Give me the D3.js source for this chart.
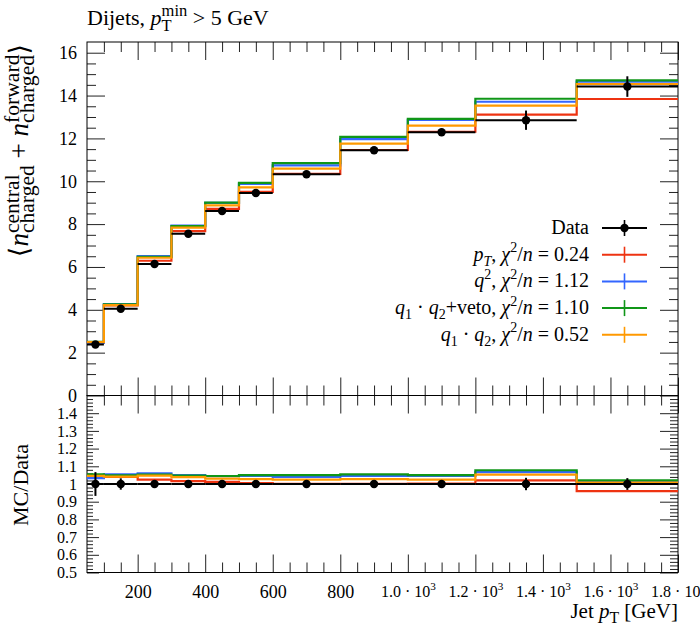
<!DOCTYPE html>
<html>
<head>
<meta charset="utf-8">
<script src="https://cdn.jsdelivr.net/npm/d3@7"></script>
<style>
  body { margin: 0; background: #fff; }
  svg { display: block; }
</style>
</head>
<body>
<script>
// bin edges in Jet pT [GeV]
const binEdges = [50, 100, 200, 300, 400, 500, 600, 800, 1000, 1200, 1500, 1800];
// measured <n_charged central + forward>
const dataVals = [2.38, 4.05, 6.14, 7.55, 8.61, 9.45, 10.33, 11.45, 12.29, 12.85, 14.42];
const dataErr  = [0.16, 0.13, 0.05, 0.05, 0.05, 0.05, 0.05, 0.06, 0.08, 0.45, 0.48];
// MC predictions
const mcPt    = [2.49, 4.21, 6.29, 7.67, 8.71, 9.50, 10.34, 11.46, 12.31, 13.11, 13.84];
const mcQ2    = [2.46, 4.27, 6.51, 7.93, 8.99, 9.88, 10.74, 11.97, 12.86, 13.71, 14.65];
const mcVeto  = [2.51, 4.25, 6.47, 7.91, 9.00, 9.92, 10.85, 12.07, 12.91, 13.85, 14.71];
const mcQ1Q2  = [2.49, 4.22, 6.43, 7.84, 8.87, 9.71, 10.59, 11.76, 12.60, 13.53, 14.54];
const chi2 = ["0.24", "1.12", "1.10", "0.52"];
const colors = ["#EE3311", "#3366FF", "#109618", "#FF9900"];

const xTicksMajor = [200, 400, 600, 800, 1000, 1200, 1400, 1600, 1800];
const yTicksMain = [0, 2, 4, 6, 8, 10, 12, 14, 16];
const yTicksRatio = [0.5, 0.6, 0.7, 0.8, 0.9, 1, 1.1, 1.2, 1.3, 1.4];

const series = [mcPt, mcQ2, mcVeto, mcQ1Q2];

const font = "'Liberation Serif', 'DejaVu Serif', serif";
const W = 700, H = 632;
const pLeft = 87, pRight = 678, pTop = 42, pMid = 395.5, pBottom = 572.5;

const svg = d3.select("body").append("svg")
  .attr("width", W).attr("height", H)
  .style("font-family", font);

var x = d3.scaleLinear().domain([50, 1800]).range([pLeft, pRight]);
var y = d3.scaleLinear().domain([0, 16.5]).range([pMid, pTop]);
var yr = d3.scaleLinear().domain([0.5, 1.5]).range([pBottom, pMid]);

function fs(txt) { return +txt.attr("font-size"); }

// small helper for text with italic, sub/superscripts and stacked scripts
function mathText(txt, tokens, opt) {
  opt = Object.assign({sc: 0.7, up: 0.42, down: 0.25}, opt || {});
  const f = fs(txt);
  let shift = 0;
  let extraDx = 0;
  tokens.forEach(tk => {
    if (tk.stack) {
      const sup = txt.append("tspan").text(tk.stack[0])
        .attr("font-size", opt.sc + "em").attr("dy", (-opt.up * f - shift));
      if (extraDx) sup.attr("dx", extraDx);
      extraDx = 0;
      const wSup = sup.node().getComputedTextLength();
      const sub = txt.append("tspan").text(tk.stack[1])
        .attr("font-size", opt.sc + "em").attr("dx", -wSup).attr("dy", (opt.up + opt.down) * f);
      const wSub = sub.node().getComputedTextLength();
      shift = opt.down * f;
      extraDx = Math.max(0, wSup - wSub);
      return;
    }
    let target = 0;
    if (tk.sub) target = opt.down * f;
    if (tk.sup) target = -opt.up * f;
    const t = txt.append("tspan").text(tk.t)
      .attr("dy", target - shift);
    if (extraDx) { t.attr("dx", extraDx); extraDx = 0; }
    if (tk.sub || tk.sup) t.attr("font-size", opt.sc + "em");
    if (tk.i) t.attr("font-style", "italic");
    shift = target;
  });
}

// title
var title = svg.append("text").attr("x", pLeft).attr("y", 25).attr("font-size", 22);
mathText(title, [{t: "Dijets, "}, {t: "p", i: true}, {stack: ["min", "T"]}, {t: " > 5 GeV"}], {sc: 0.75});

// y label main
var ylab = svg.append("text").attr("font-size", 27).attr("text-anchor", "end")
  .attr("transform", "translate(28," + (pTop + 2) + ") rotate(-90)");
mathText(ylab, [{t: "\u27e8"}, {t: "n", i: true}, {stack: ["central", "charged"]},
  {t: " + "}, {t: "n", i: true}, {stack: ["forward", "charged"]}, {t: "\u27e9"}],
  {sc: 0.8, up: 0.34, down: 0.22});

// ratio label
svg.append("text").attr("font-size", 22).attr("text-anchor", "middle")
  .attr("transform", "translate(28,485) rotate(-90)")
  .text("MC/Data");

// x label
var xlab = svg.append("text").attr("x", pRight).attr("y", 618)
  .attr("font-size", 21).attr("text-anchor", "end");
mathText(xlab, [{t: "Jet "}, {t: "p", i: true}, {t: "T", sub: true}, {t: " [GeV]"}], {sc: 0.75});

// ticks
const xMinor = d3.range(100, 1800, 50).filter(v => v % 200 !== 0);
const yMinor = d3.range(0.5, 16.5, 0.5).filter(v => v % 2 !== 0);
const rMinor = d3.range(26, 75).map(v => v / 50).filter(v => Math.abs(v * 10 - Math.round(v * 10)) > 1e-6);

function tickAxis(axisFn, scale, values, size, transform, fmt, pad) {
  const g = svg.append("g").attr("transform", transform)
    .call(axisFn(scale).tickValues(values).tickSize(-size)
      .tickPadding(pad || 3).tickFormat(fmt || (() => "")));
  g.select(".domain").remove();
  g.selectAll("line").attr("stroke", "#222");
  return g;
}

// main panel
tickAxis(d3.axisBottom, x, xTicksMajor, 18, `translate(0,${pMid})`);
tickAxis(d3.axisBottom, x, xMinor, 10, `translate(0,${pMid})`);
tickAxis(d3.axisTop, x, xTicksMajor, 18, `translate(0,${pTop})`);
tickAxis(d3.axisTop, x, xMinor, 10, `translate(0,${pTop})`);
var yAx = tickAxis(d3.axisLeft, y, yTicksMain, 18, `translate(${pLeft},0)`, d => d, 10);
tickAxis(d3.axisLeft, y, yMinor, 9, `translate(${pLeft},0)`);
tickAxis(d3.axisRight, y, yTicksMain, 18, `translate(${pRight},0)`);
tickAxis(d3.axisRight, y, yMinor, 9, `translate(${pRight},0)`);

// ratio panel
tickAxis(d3.axisTop, x, xTicksMajor, 18, `translate(0,${pMid})`);
tickAxis(d3.axisTop, x, xMinor, 10, `translate(0,${pMid})`);
var xAx = tickAxis(d3.axisBottom, x, xTicksMajor, 18, `translate(0,${pBottom})`, d => d, 13);
tickAxis(d3.axisBottom, x, xMinor, 10, `translate(0,${pBottom})`);
var rAx = tickAxis(d3.axisLeft, yr, yTicksRatio, 12, `translate(${pLeft},0)`, d => d3.format(".1f")(d).replace(/\.0$/, ""), 10);
tickAxis(d3.axisLeft, yr, rMinor, 6, `translate(${pLeft},0)`);
tickAxis(d3.axisRight, yr, yTicksRatio, 18, `translate(${pRight},0)`);
tickAxis(d3.axisRight, yr, rMinor, 8, `translate(${pRight},0)`);

yAx.selectAll("text").attr("font-size", 18).attr("font-family", font).attr("fill", "#000");
rAx.selectAll("text").attr("font-size", 16).attr("font-family", font).attr("fill", "#000");
xAx.selectAll("text").attr("font-family", font).attr("fill", "#000")
  .each(function(d) {
    const t = d3.select(this);
    t.text(null);
    if (d < 1000) {
      t.attr("font-size", 18).text(d);
    } else {
      t.attr("font-size", 16);
      t.append("tspan").text((d / 1000).toFixed(1) + " \u00b7 10");
      t.append("tspan").text("3").attr("font-size", "0.7em").attr("dy", -7);
    }
  });

// frames
svg.append("rect").attr("x", pLeft).attr("y", pTop).attr("width", pRight - pLeft).attr("height", pMid - pTop)
  .attr("fill", "none").attr("stroke", "#000");
svg.append("rect").attr("x", pLeft).attr("y", pMid).attr("width", pRight - pLeft).attr("height", pBottom - pMid)
  .attr("fill", "none").attr("stroke", "#000");

const nb = dataVals.length;
const centers = d3.range(nb).map(i => (binEdges[i] + binEdges[i + 1]) / 2);

function stepPts(vals) {
  return binEdges.map((e, i) => [e, vals[Math.min(i, vals.length - 1)]]);
}

// MC histograms, main + ratio
series.forEach((vals, k) => {
  svg.append("path")
    .attr("d", d3.line().x(d => x(d[0])).y(d => y(d[1])).curve(d3.curveStepAfter)(stepPts(vals)))
    .attr("fill", "none").attr("stroke", colors[k]).attr("stroke-width", 2.2);
  const ratio = vals.map((v, i) => v / dataVals[i]);
  svg.append("path")
    .attr("d", d3.line().x(d => x(d[0])).y(d => yr(d[1])).curve(d3.curveStepAfter)(stepPts(ratio)))
    .attr("fill", "none").attr("stroke", colors[k]).attr("stroke-width", 2.2);
});

// data points
function drawData(scale, vals, errs) {
  const g = svg.append("g");
  g.selectAll(".xe").data(vals).enter().append("line")
    .attr("x1", (d, i) => x(binEdges[i])).attr("x2", (d, i) => x(binEdges[i + 1]))
    .attr("y1", d => scale(d)).attr("y2", d => scale(d))
    .attr("stroke", "#000").attr("stroke-width", 2);
  g.selectAll(".ye").data(vals).enter().append("line")
    .attr("x1", (d, i) => x(centers[i])).attr("x2", (d, i) => x(centers[i]))
    .attr("y1", (d, i) => scale(d - errs[i])).attr("y2", (d, i) => scale(d + errs[i]))
    .attr("stroke", "#000").attr("stroke-width", 2);
  g.selectAll("circle").data(vals).enter().append("circle")
    .attr("cx", (d, i) => x(centers[i])).attr("cy", d => scale(d)).attr("r", 4.2)
    .attr("fill", "#000");
}
drawData(y, dataVals, dataErr);
drawData(yr, dataVals.map(() => 1), dataErr.map((e, i) => e / dataVals[i]));

// legend
const legX = 589, legY = 228, legDy = 26.7;
const legLabels = [
  [{t: "Data"}],
  [{t: "p", i: true}, {t: "T", sub: true, i: true}, {t: ", "}, {t: "\u03c7", i: true}, {t: "2", sup: true}, {t: "/"}, {t: "n", i: true}, {t: " = " + chi2[0]}],
  [{t: "q", i: true}, {t: "2", sup: true}, {t: ", "}, {t: "\u03c7", i: true}, {t: "2", sup: true}, {t: "/"}, {t: "n", i: true}, {t: " = " + chi2[1]}],
  [{t: "q", i: true}, {t: "1", sub: true}, {t: " \u00b7 "}, {t: "q", i: true}, {t: "2", sub: true}, {t: "+veto, "}, {t: "\u03c7", i: true}, {t: "2", sup: true}, {t: "/"}, {t: "n", i: true}, {t: " = " + chi2[2]}],
  [{t: "q", i: true}, {t: "1", sub: true}, {t: " \u00b7 "}, {t: "q", i: true}, {t: "2", sub: true}, {t: ", "}, {t: "\u03c7", i: true}, {t: "2", sup: true}, {t: "/"}, {t: "n", i: true}, {t: " = " + chi2[3]}]
];
legLabels.forEach((toks, i) => {
  const cy = legY + i * legDy;
  const t = svg.append("text").attr("x", legX).attr("y", cy + 6)
    .attr("font-size", 20).attr("text-anchor", "end");
  mathText(t, toks);
  const col = i === 0 ? "#000" : colors[i - 1];
  svg.append("line").attr("x1", 602).attr("x2", 647).attr("y1", cy).attr("y2", cy)
    .attr("stroke", col).attr("stroke-width", 2);
  svg.append("line").attr("x1", 624.5).attr("x2", 624.5).attr("y1", cy - 8).attr("y2", cy + 8)
    .attr("stroke", col).attr("stroke-width", 1.6);
  if (i === 0) svg.append("circle").attr("cx", 624.5).attr("cy", cy).attr("r", 4.2).attr("fill", "#000");
});
</script>
</body>
</html>
